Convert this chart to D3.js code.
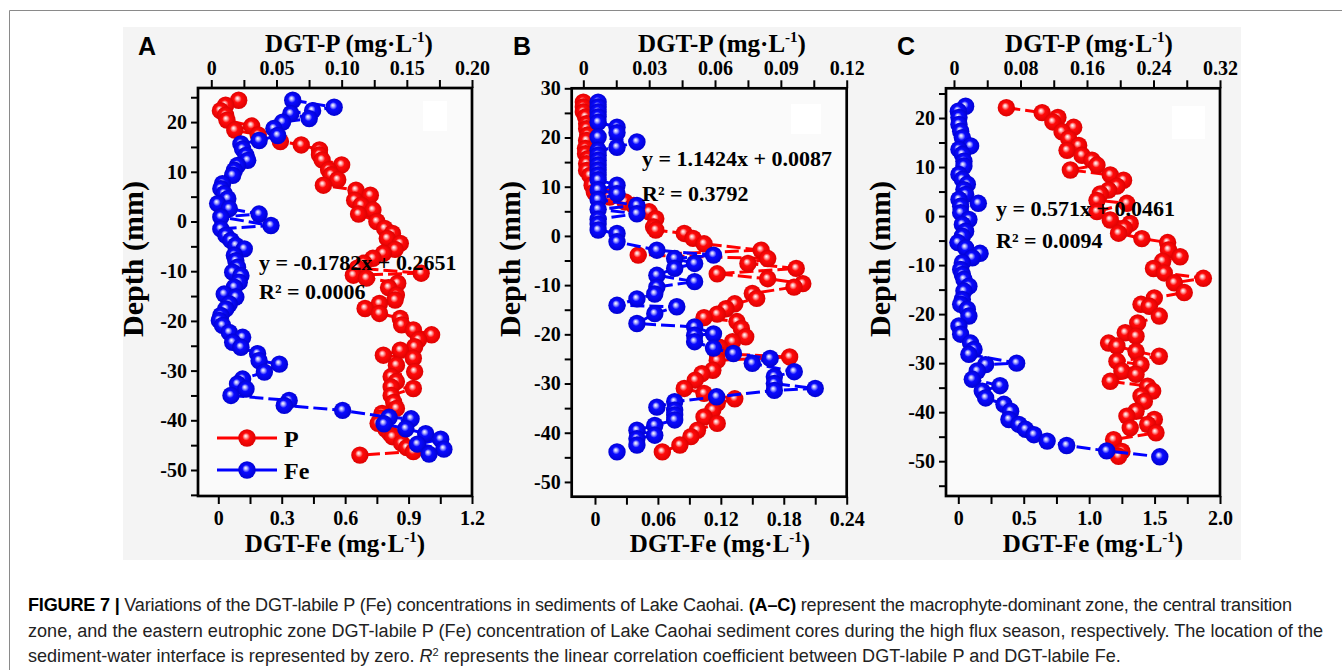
<!DOCTYPE html>
<meta charset="utf-8">
<style>
  body { margin: 0; background: #fff; }
  svg text { font-family: "Liberation Serif", "Times New Roman", serif; font-weight: bold; fill: #000; }
  .frame { fill: #fafafa; stroke: #000; stroke-width: 2.7px; }
  .axisFormat path { display: none; }
  .axisFormat line { stroke: #000; stroke-width: 2px; }
  .axisFormat text { font-size: 20px; font-family: "Liberation Serif", serif; font-weight: bold; }
  .caption text { font-family: "Liberation Sans", Arial, sans-serif; font-weight: normal; fill: #222; }
</style>
<body>
<script src="https://d3js.org/d3.v7.min.js"></script>
<script>

// ---- values: depth (mm) and DGT-labile concentration (mg/L) ----

// A: macrophyte-dominant zone
var depthA_P = [24.4, 23.4, 22.3, 21.4, 20.4, 19.2, 18.4, 17.4, 16.1, 15.4, 14.4, 13.4, 12.4, 11.4, 10.4, 9.4, 8.4, 7.3, 6.3, 5.3, 4.3, 3.3, 2.3, 1.5, 0.0, -1.4, -2.4, -3.4, -4.4, -5.6, -6.4, -7.4, -8.4, -9.4, -10.4, -10.8, -11.4, -12.4, -13.3, -14.8, -15.8, -16.5, -17.5, -18.5, -19.5, -20.8, -21.8, -22.8, -23.8, -25.2, -25.9, -26.9, -27.5, -28.9, -30.2, -31.2, -32.2, -33.3, -33.6, -35.0, -36.4, -37.6, -38.6, -39.6, -40.6, -41.8, -42.6, -43.3, -44.6, -45.5, -46.3, -47.0];
var valA_P = [0.021, 0.011, 0.007, 0.011, 0.012, 0.031, 0.018, 0.036, 0.053, 0.069, 0.083, 0.083, 0.085, 0.100, 0.090, 0.092, 0.097, 0.086, 0.111, 0.122, 0.110, 0.115, 0.124, 0.113, 0.127, 0.133, 0.139, 0.135, 0.145, 0.141, 0.132, 0.124, 0.117, 0.112, 0.161, 0.109, 0.119, 0.143, 0.136, 0.142, 0.141, 0.129, 0.118, 0.129, 0.145, 0.146, 0.155, 0.169, 0.159, 0.156, 0.145, 0.132, 0.155, 0.142, 0.156, 0.138, 0.142, 0.138, 0.155, 0.138, 0.140, 0.142, 0.131, 0.130, 0.128, 0.134, 0.137, 0.139, 0.146, 0.150, 0.155, 0.114];
var depthA_Fe = [24.4, 23.0, 22.3, 21.7, 20.7, 20.0, 18.7, 17.3, 16.3, 15.6, 14.6, 13.3, 12.3, 11.3, 10.3, 9.3, 7.6, 6.6, 5.6, 4.6, 3.6, 2.6, 1.5, 0.9, -0.8, -1.5, -2.8, -3.8, -4.8, -5.5, -6.8, -7.9, -9.2, -10.2, -10.9, -12.2, -13.2, -14.6, -15.2, -16.6, -17.6, -18.9, -19.9, -20.9, -22.3, -23.3, -24.3, -25.3, -26.6, -28.0, -28.7, -30.3, -31.7, -32.7, -33.7, -35.0, -36.0, -37.0, -38.0, -39.4, -39.7, -40.7, -41.7, -42.7, -43.8, -44.8, -45.8, -46.8];
var valA_Fe = [0.352, 0.548, 0.446, 0.343, 0.430, 0.304, 0.263, 0.281, 0.193, 0.107, 0.115, 0.131, 0.139, 0.091, 0.076, 0.068, 0.020, 0.012, 0.028, 0.045, -0.003, 0.052, 0.193, 0.012, 0.249, 0.012, 0.036, 0.060, 0.083, 0.123, 0.076, 0.083, 0.091, 0.068, 0.107, 0.099, 0.076, 0.028, 0.083, 0.052, 0.036, 0.012, 0.005, 0.020, 0.052, 0.115, 0.068, 0.107, 0.186, 0.193, 0.289, 0.218, 0.115, 0.091, 0.131, 0.060, 0.335, 0.312, 0.588, 0.808, 0.912, 0.784, 0.887, 0.981, 1.052, 0.942, 1.067, 0.997];

// B: central transition zone
var depthB_P = [27.2, 26.2, 25.2, 24.2, 22.8, 21.8, 20.5, 19.4, 17.8, 16.7, 15.7, 14.7, 13.3, 12.3, 10.3, 8.9, 7.9, 6.9, 6.2, 4.9, 3.5, 1.8, 1.2, 0.5, -0.5, -1.6, -2.9, -3.9, -4.6, -5.6, -6.6, -7.7, -8.7, -9.7, -10.4, -11.7, -12.7, -13.8, -14.8, -15.9, -16.6, -17.4, -18.8, -20.5, -21.5, -22.6, -23.9, -24.6, -25.3, -27.3, -28.0, -29.3, -31.0, -32.0, -33.1, -34.0, -35.4, -36.8, -38.1, -39.5, -40.8, -42.5, -43.9];
var valB_P = [0.000, 0.000, 0.000, 0.001, 0.0015, 0.0015, 0.002, 0.0015, 0.001, 0.001, 0.002, 0.0015, 0.0015, 0.003, 0.004, 0.005, 0.012, 0.019, 0.023, 0.030, 0.033, 0.032, 0.033, 0.046, 0.050, 0.055, 0.081, 0.025, 0.084, 0.075, 0.097, 0.061, 0.084, 0.100, 0.096, 0.077, 0.079, 0.069, 0.065, 0.061, 0.055, 0.070, 0.072, 0.074, 0.068, 0.062, 0.061, 0.094, 0.061, 0.059, 0.054, 0.051, 0.046, 0.055, 0.069, 0.061, 0.059, 0.055, 0.061, 0.052, 0.049, 0.044, 0.036];
var depthB_Fe = [27.2, 26.2, 25.2, 24.2, 23.1, 22.1, 21.0, 20.1, 19.1, 18.0, 17.4, 16.4, 15.4, 14.4, 13.4, 12.4, 11.4, 10.3, 9.4, 8.6, 7.4, 6.2, 5.4, 4.5, 3.4, 2.4, 1.2, 0.5, -1.2, -2.9, -3.9, -4.6, -5.6, -6.6, -8.0, -9.3, -10.4, -11.8, -12.8, -14.1, -14.4, -15.8, -17.8, -18.5, -19.9, -20.2, -21.5, -22.8, -23.9, -24.9, -25.9, -27.6, -28.6, -30.0, -31.0, -31.4, -32.7, -33.7, -34.8, -35.4, -36.4, -37.4, -38.5, -39.5, -40.5, -41.2, -42.5, -43.9];
var valB_Fe = [0.003, 0.003, 0.003, 0.003, 0.003, 0.021, 0.021, 0.003, 0.040, 0.021, 0.003, 0.003, 0.003, 0.003, 0.003, 0.003, 0.003, 0.021, 0.003, 0.021, 0.003, 0.040, 0.003, 0.040, 0.003, 0.003, 0.003, 0.021, 0.021, 0.059, 0.113, 0.076, 0.095, 0.076, 0.059, 0.095, 0.059, 0.057, 0.040, 0.021, 0.078, 0.057, 0.040, 0.095, 0.113, 0.095, 0.095, 0.113, 0.132, 0.167, 0.150, 0.190, 0.171, 0.171, 0.210, 0.171, 0.116, 0.076, 0.059, 0.076, 0.076, 0.076, 0.057, 0.040, 0.057, 0.040, 0.040, 0.021];

// C: eastern eutrophic zone
var depthC_P = [22.1, 21.1, 20.1, 19.2, 18.1, 17.2, 15.8, 14.4, 13.4, 12.4, 11.4, 10.4, 9.4, 8.4, 7.3, 6.1, 5.3, 4.5, 3.2, 2.6, 0.9, -0.8, -1.5, -2.5, -3.5, -4.6, -5.4, -6.9, -8.3, -9.2, -10.7, -11.6, -12.7, -13.6, -15.6, -16.7, -18.0, -18.4, -20.4, -21.8, -23.8, -24.5, -25.9, -26.5, -27.6, -28.6, -29.6, -30.3, -31.6, -32.3, -33.7, -34.7, -35.7, -36.7, -37.8, -39.8, -40.8, -41.5, -42.5, -43.2, -44.2, -45.6, -48.0, -49.0];
var valC_P = [0.063, 0.106, 0.125, 0.119, 0.144, 0.130, 0.138, 0.150, 0.136, 0.154, 0.166, 0.172, 0.140, 0.188, 0.204, 0.196, 0.186, 0.176, 0.172, 0.208, 0.172, 0.188, 0.212, 0.205, 0.198, 0.226, 0.257, 0.258, 0.272, 0.251, 0.240, 0.253, 0.300, 0.265, 0.277, 0.241, 0.225, 0.235, 0.247, 0.221, 0.206, 0.219, 0.186, 0.196, 0.219, 0.247, 0.196, 0.225, 0.202, 0.219, 0.188, 0.233, 0.239, 0.225, 0.229, 0.219, 0.208, 0.241, 0.233, 0.212, 0.243, 0.192, 0.202, 0.198];
var depthC_Fe = [22.4, 21.4, 20.1, 18.7, 17.3, 16.0, 14.3, 13.6, 12.6, 11.2, 10.2, 8.5, 7.5, 6.5, 5.4, 4.4, 3.4, 2.6, 2.0, 0.7, -0.7, -1.7, -3.1, -4.1, -5.4, -6.5, -7.6, -8.5, -9.5, -10.9, -11.9, -12.9, -14.3, -15.3, -17.0, -18.0, -19.0, -20.4, -22.4, -24.1, -25.9, -27.2, -28.2, -30.0, -30.3, -31.6, -33.3, -34.6, -35.7, -37.1, -38.4, -39.8, -41.5, -42.5, -43.5, -44.6, -45.9, -46.8, -47.9, -49.1];
var valC_Fe = [0.056, 0.000, 0.005, 0.005, 0.018, 0.031, 0.094, 0.005, 0.031, 0.043, 0.043, 0.005, 0.031, 0.069, 0.043, 0.056, 0.005, 0.153, 0.018, 0.018, 0.081, 0.031, 0.056, 0.031, -0.003, 0.056, 0.166, 0.107, 0.031, 0.018, 0.031, 0.043, 0.081, 0.043, 0.031, 0.018, 0.069, 0.081, 0.005, 0.018, 0.094, 0.120, 0.081, 0.446, 0.209, 0.145, 0.107, 0.319, 0.183, 0.209, 0.349, 0.400, 0.387, 0.463, 0.514, 0.578, 0.679, 0.828, 1.134, 1.540];

// tick values and labels
var ticksA_P = [0, 0.05, 0.10, 0.15, 0.20],   labelsA_P = ["0", "0.05", "0.10", "0.15", "0.20"];
var ticksA_Fe = [0, 0.3, 0.6, 0.9, 1.2],      labelsA_Fe = ["0", "0.3", "0.6", "0.9", "1.2"];
var ticksB_P = [0, 0.03, 0.06, 0.09, 0.12],   labelsB_P = ["0", "0.03", "0.06", "0.09", "0.12"];
var ticksB_Fe = [0, 0.06, 0.12, 0.18, 0.24],  labelsB_Fe = ["0", "0.06", "0.12", "0.18", "0.24"];
var ticksC_P = [0, 0.08, 0.16, 0.24, 0.32],   labelsC_P = ["0", "0.08", "0.16", "0.24", "0.32"];
var ticksC_Fe = [0, 0.5, 1.0, 1.5, 2.0],      labelsC_Fe = ["0", "0.5", "1.0", "1.5", "2.0"];
var depthTicksAC = [20, 10, 0, -10, -20, -30, -40, -50];
var depthTicksB = [30, 20, 10, 0, -10, -20, -30, -40, -50];

var equations = {
  A: ["y = -0.1782x + 0.2651", "R² = 0.0006"],
  B: ["y = 1.1424x + 0.0087", "R² = 0.3792"],
  C: ["y = 0.571x + 0.0461", "R² = 0.0094"]
};

// ---- layout of the three panels (pixels) ----
var panels = [
  { id: "A", left: 198, right: 472, top: 88, bottom: 496,
    depthDomain: [26.86, -55.23], pDomain: [-0.0102, 0.2], feDomain: [-0.096, 1.2],
    depthTicks: depthTicksAC, depthMinor: d3.range(25, -56, -5),
    pTicks: ticksA_P, pLabels: labelsA_P, feTicks: ticksA_Fe, feLabels: labelsA_Fe,
    P: [depthA_P, valA_P], Fe: [depthA_Fe, valA_Fe], eq: equations.A,
    eqX: 259, eqY: 270, eqY2: 299, box: [423, 101, 24, 30],
    topTitleX: 349, botTitleX: 335, depthX: 143, letterX: 138, legend: true },
  { id: "B", left: 571.7, right: 846.7, top: 88.3, bottom: 496.7,
    depthDomain: [30, -53], pDomain: [-0.0053, 0.12], feDomain: [-0.0222, 0.24],
    depthTicks: depthTicksB, depthMinor: d3.range(30, -51, -5),
    pTicks: ticksB_P, pLabels: labelsB_P, feTicks: ticksB_Fe, feLabels: labelsB_Fe,
    P: [depthB_P, valB_P], Fe: [depthB_Fe, valB_Fe], eq: equations.B,
    eqX: 642, eqY: 166, eqY2: 201, box: [791, 104, 30, 30],
    topTitleX: 722, botTitleX: 720, depthX: 520, letterX: 513, legend: false },
  { id: "C", left: 946, right: 1220, top: 88.3, bottom: 496,
    depthDomain: [26.06, -57.1], pDomain: [-0.0096, 0.32], feDomain: [-0.094, 2.0],
    depthTicks: depthTicksAC, depthMinor: d3.range(25, -56, -5),
    pTicks: ticksC_P, pLabels: labelsC_P, feTicks: ticksC_Fe, feLabels: labelsC_Fe,
    P: [depthC_P, valC_P], Fe: [depthC_Fe, valC_Fe], eq: equations.C,
    eqX: 996, eqY: 216, eqY2: 248, box: [1172, 106, 33, 33],
    topTitleX: 1089, botTitleX: 1093, depthX: 890, letterX: 897, legend: false }
];

var svg = d3.select("body").append("svg")
    .attr("width", 1342)
    .attr("height", 670);

// page frame and the grey image area
svg.append("path")
    .attr("d", "M9.5,670V10.5H1342")
    .attr("fill", "none")
    .attr("stroke", "#8a8a8a");
svg.append("rect")
    .attr("x", 123).attr("y", 27)
    .attr("width", 1118).attr("height", 533)
    .attr("fill", "#f4f4f4");

// glossy sphere gradients
var defs = svg.append("defs");
function addGradient(id, light, base, dark) {
  var g = defs.append("radialGradient")
      .attr("id", id)
      .attr("cx", "50%").attr("cy", "50%").attr("r", "55%")
      .attr("fx", "42%").attr("fy", "38%");
  g.append("stop").attr("offset", "0%").attr("stop-color", "#ffffff");
  g.append("stop").attr("offset", "16%").attr("stop-color", light);
  g.append("stop").attr("offset", "40%").attr("stop-color", base);
  g.append("stop").attr("offset", "100%").attr("stop-color", dark);
}
addGradient("ballRed", "#ffb4b4", "#ff0a0a", "#d80000");
addGradient("ballBlue", "#b4b4ff", "#0a0aff", "#0000cc");

function labelFor(ticks, labels) {
  return function(d) {
    var i = ticks.findIndex(function(t) { return Math.abs(t - d) < 1e-9; });
    return i >= 0 ? labels[i] : "";
  };
}

function withMinor(ticks) {
  return ticks.concat(d3.pairs(ticks).map(function(p) { return (p[0] + p[1]) / 2; }));
}

// an axis title with the "-1" superscript
function unitTitle(x, y, name) {
  var t = svg.append("text")
      .attr("x", x).attr("y", y)
      .attr("text-anchor", "middle")
      .style("font-size", "25px");
  t.append("tspan").text(name + " (mg·L");
  t.append("tspan").attr("dy", -10).style("font-size", "15px").text("-1");
  t.append("tspan").attr("dy", 10).text(")");
}

function drawSeries(g, series, xScale, y, color, grad) {
  var pts = series[0].map(function(d, i) { return { depth: d, v: series[1][i] }; });
  var line = d3.line()
      .x(function(d) { return xScale(d.v); })
      .y(function(d) { return y(d.depth); });

  g.append("path")
      .datum(pts)
      .attr("d", line)
      .attr("fill", "none")
      .attr("stroke", color)
      .attr("stroke-width", 3)
      .attr("stroke-dasharray", "14,5");

  g.selectAll(null)
      .data(pts)
      .enter().append("circle")
      .attr("cx", function(d) { return xScale(d.v); })
      .attr("cy", function(d) { return y(d.depth); })
      .attr("r", 8.7)
      .attr("fill", "url(#" + grad + ")");
}

panels.forEach(function(p) {
  var y = d3.scaleLinear().domain(p.depthDomain).range([p.top, p.bottom]);
  var xP = d3.scaleLinear().domain(p.pDomain).range([p.left, p.right]);
  var xFe = d3.scaleLinear().domain(p.feDomain).range([p.left, p.right]);

  svg.append("rect")
      .attr("class", "frame")
      .attr("x", p.left).attr("y", p.top)
      .attr("width", p.right - p.left).attr("height", p.bottom - p.top);

  // empty white legend placeholder in the corner
  svg.append("rect")
      .attr("x", p.box[0]).attr("y", p.box[1])
      .attr("width", p.box[2]).attr("height", p.box[3])
      .attr("fill", "#fff");

  svg.append("g")
      .attr("class", "axisFormat")
      .attr("transform", "translate(0," + p.top + ")")
      .call(d3.axisTop(xP).tickValues(withMinor(p.pTicks))
        .tickSize(8).tickPadding(5).tickFormat(labelFor(p.pTicks, p.pLabels)));

  svg.append("g")
      .attr("class", "axisFormat")
      .attr("transform", "translate(0," + p.bottom + ")")
      .call(d3.axisBottom(xFe).tickValues(withMinor(p.feTicks))
        .tickSize(8).tickPadding(7).tickFormat(labelFor(p.feTicks, p.feLabels)));

  svg.append("g")
      .attr("class", "axisFormat")
      .attr("transform", "translate(" + p.left + ",0)")
      .call(d3.axisLeft(y).tickValues(p.depthMinor)
        .tickSize(7).tickPadding(4).tickFormat(labelFor(p.depthTicks, p.depthTicks.map(String))));

  var g = svg.append("g");
  drawSeries(g, p.P, xP, y, "#ff0000", "ballRed");
  drawSeries(g, p.Fe, xFe, y, "#0000ff", "ballBlue");

  // regression text
  svg.append("text").attr("x", p.eqX).attr("y", p.eqY)
      .style("font-size", "22px").text(p.eq[0]);
  svg.append("text").attr("x", p.eqX).attr("y", p.eqY2)
      .style("font-size", "22px").text(p.eq[1]);

  // titles
  unitTitle(p.topTitleX, 52, "DGT-P");
  unitTitle(p.botTitleX, 552, "DGT-Fe");
  svg.append("text")
      .attr("transform", "translate(" + p.depthX + ",259) rotate(-90)")
      .attr("text-anchor", "middle")
      .style("font-size", "30px")
      .text("Depth (mm)");
  svg.append("text")
      .attr("x", p.letterX).attr("y", 55)
      .style("font-family", "'Liberation Sans', Arial, sans-serif")
      .style("font-size", "25px")
      .text(p.id);

  if (p.legend) {
    [["P", "#ff0000", "ballRed", 438], ["Fe", "#0000ff", "ballBlue", 470]].forEach(function(l) {
      svg.append("line")
          .attr("x1", 217).attr("x2", 277).attr("y1", l[3]).attr("y2", l[3])
          .attr("stroke", l[1]).attr("stroke-width", 3);
      svg.append("circle")
          .attr("cx", 247).attr("cy", l[3]).attr("r", 8.7)
          .attr("fill", "url(#" + l[2] + ")");
      svg.append("text")
          .attr("x", 284).attr("y", l[3] + 9)
          .style("font-size", "24px")
          .text(l[0]);
    });
  }
});

// ---- caption ----
var cap = svg.append("g").attr("class", "caption");
var capLines = [
  [["FIGURE 7 | ", "bold"], ["Variations of the DGT-labile P (Fe) concentrations in sediments of Lake Caohai. ", ""],
   ["(A–C)", "bold"], [" represent the macrophyte-dominant zone, the central transition", ""]],
  [["zone, and the eastern eutrophic zone DGT-labile P (Fe) concentration of Lake Caohai sediment cores during the high flux season, respectively. The location of the", ""]],
  [["sediment-water interface is represented by zero. ", ""], ["R", "italic"], ["2", "sup"],
   [" represents the linear correlation coefficient between DGT-labile P and DGT-labile Fe.", ""]]
];
var capWidths = [1264, 1295, null];
var capTexts = capLines.map(function(parts, i) {
  var t = cap.append("text").attr("x", 28).attr("y", 611 + i * 25.5).style("font-size", "17px");
  var shifted = false;
  parts.forEach(function(part) {
    var s = t.append("tspan").text(part[0]);
    if (part[1] === "bold") s.style("font-weight", "bold").style("fill", "#000");
    if (part[1] === "italic") s.style("font-style", "italic");
    if (part[1] === "sup") { s.attr("dy", -6).style("font-size", "11px"); shifted = true; }
    else if (shifted) { s.attr("dy", 6); shifted = false; }
  });
  return t;
});
// fit the font so the second line spans the measured width, then squeeze line 1
var natural = capTexts[1].node().getComputedTextLength();
var fs = 17 * 1295 / natural;
capTexts.forEach(function(t, i) {
  t.style("font-size", fs + "px");
  if (capWidths[i]) t.attr("textLength", capWidths[i]).attr("lengthAdjust", "spacing");
});

</script>
</body>
